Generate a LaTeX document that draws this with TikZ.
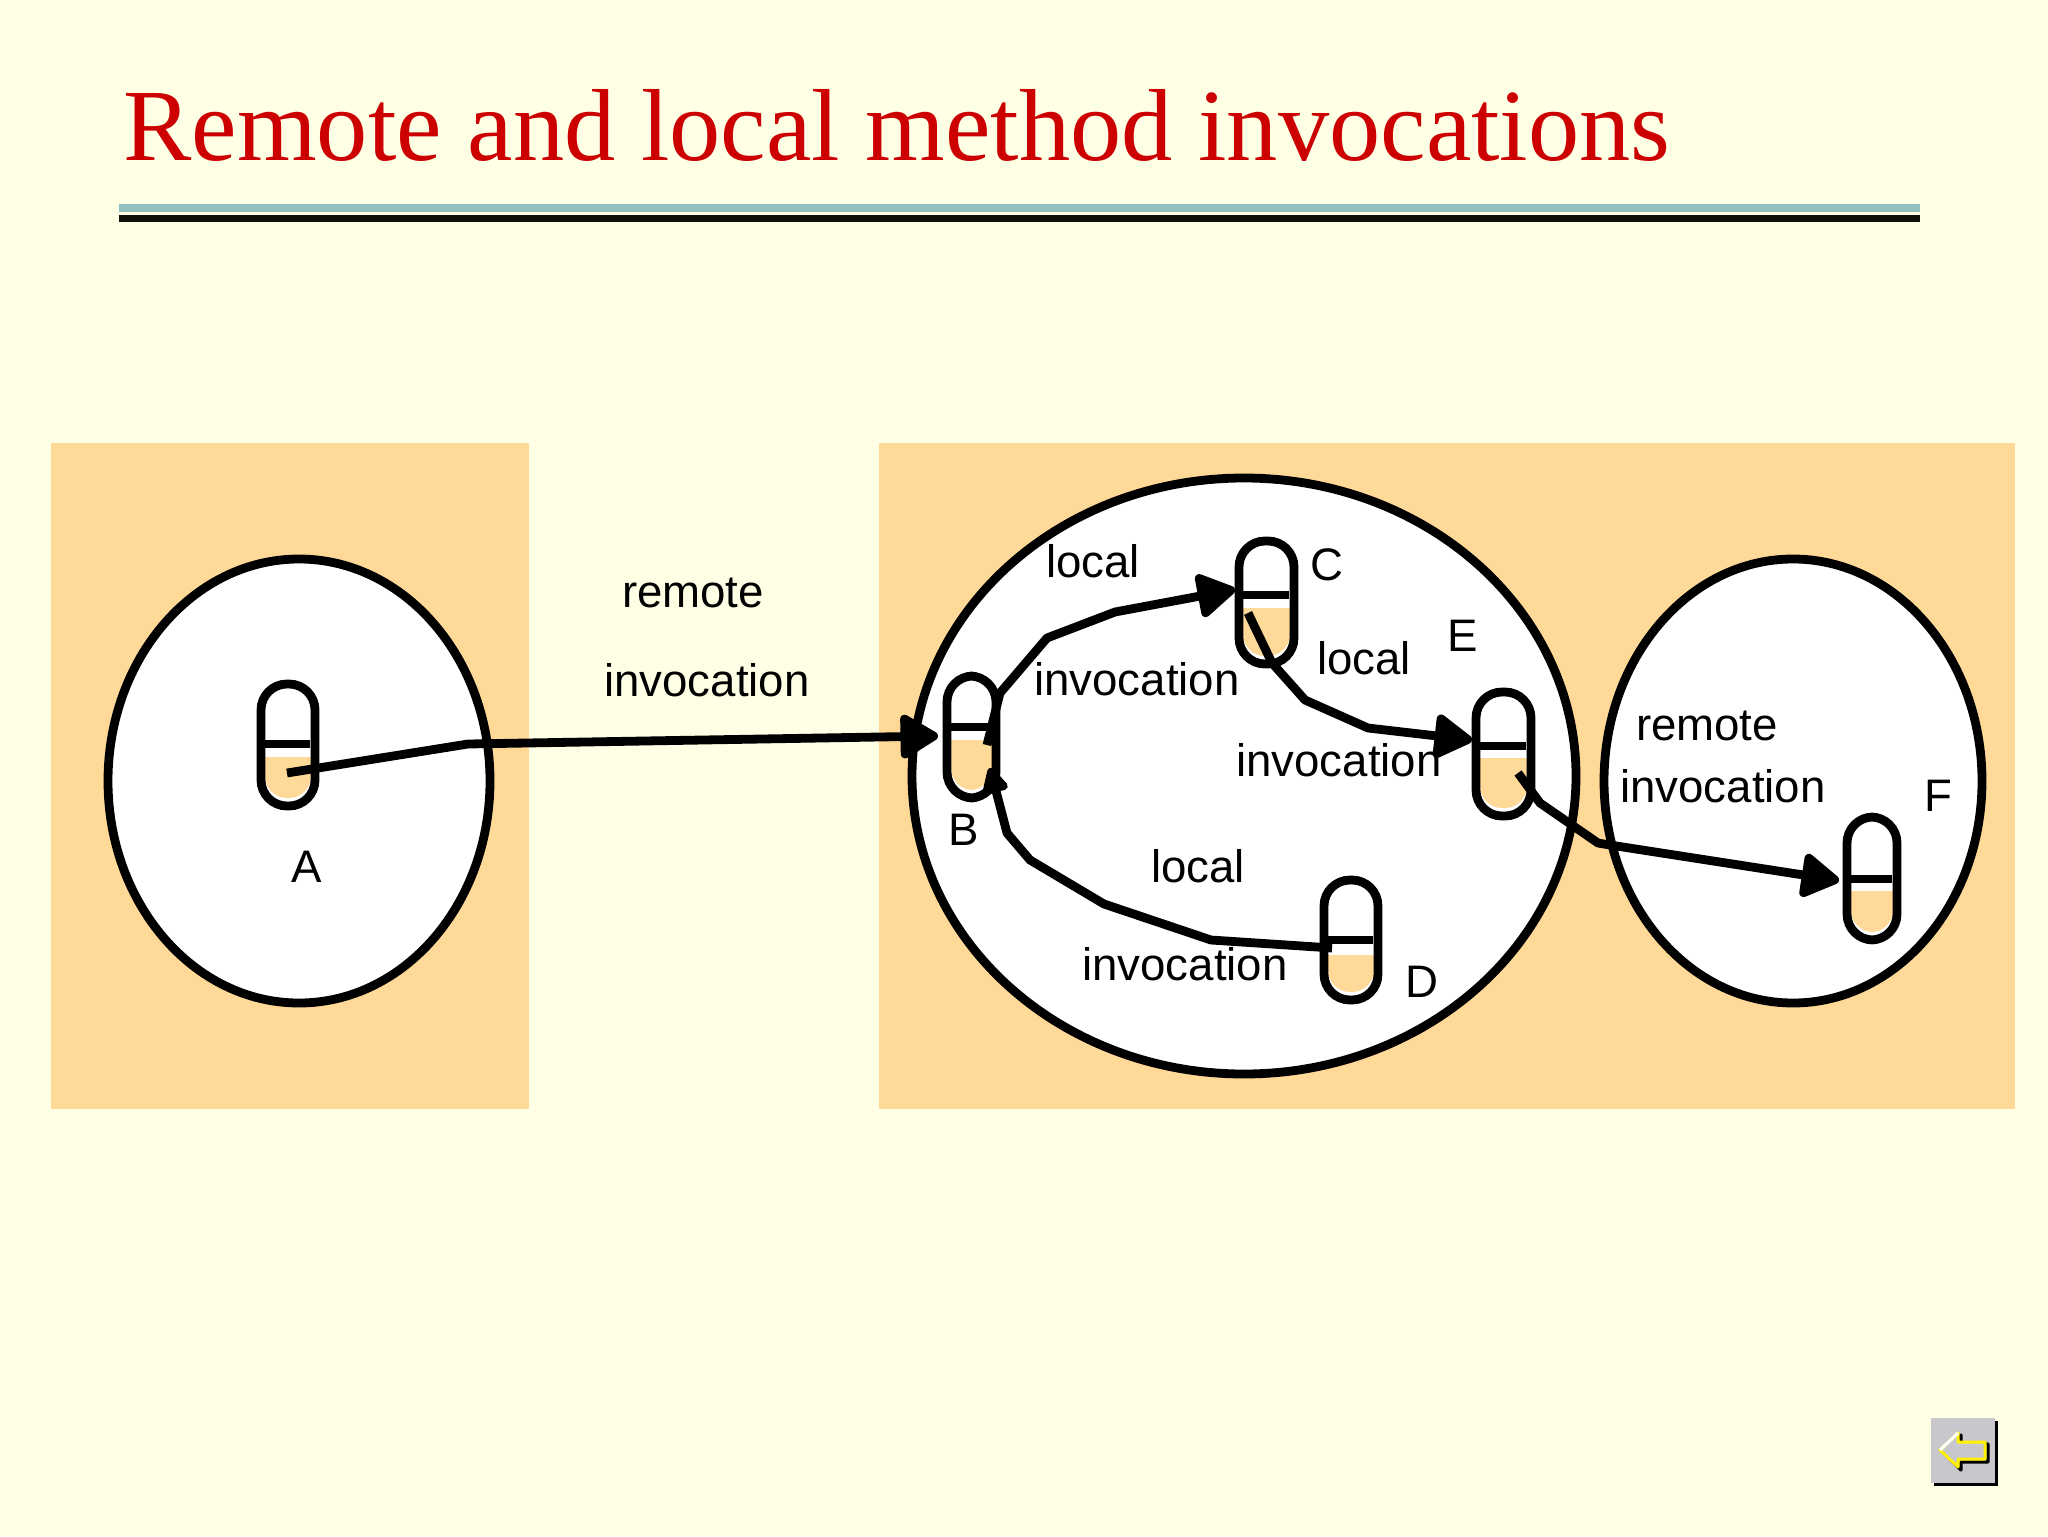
\documentclass[tikz,border=0pt]{standalone}
\usepackage{fontspec}
\setmainfont{Liberation Sans}
\newfontfamily\titlefont{Liberation Serif}
\usetikzlibrary{arrows.meta,shapes.geometric}
\definecolor{pagebg}{RGB}{255,255,230}
\definecolor{peach}{RGB}{255,217,152}
\definecolor{titlered}{RGB}{204,0,0}
\definecolor{tealbar}{RGB}{144,192,192}
\definecolor{barblack}{RGB}{16,16,10}
\definecolor{btngray}{RGB}{200,200,204}
\tikzset{
  host/.style={fill=peach,draw=none},
  proc/.style={ellipse,draw=black,fill=white,line width=4.4pt,inner sep=0pt,outer sep=0pt},
  pill/.style={rectangle,draw=black,line width=4.4pt,inner sep=0pt,outer sep=0pt,rounded corners=13pt},
  divider/.style={draw=black,line width=4.4pt},
  link/.style={draw=black,line width=4.4pt,line join=round,-{Triangle[length=21pt,width=24pt,round]}},
  backlink/.style={draw=black,line width=4.4pt,line join=round,-{Triangle[length=15pt,width=14pt,round]}},
  lab/.style={anchor=base,inner sep=0pt,font=\fontsize{22.8pt}{26pt}\selectfont,text=black},
}
% name, left, top, right, bottom (outer edges), divider y, fill top y
\newcommand\pillbox[7]{%
  \pgfmathsetmacro\pcx{(#2+#4)/2}\pgfmathsetmacro\pcy{(#3+#5)/2}%
  \pgfmathsetmacro\pw{(#4-#2-8)/2}\pgfmathsetmacro\ph{(#5-#3-8)/2}%
  \pgfmathsetmacro\fl{#2+8}\pgfmathsetmacro\fr{#4-8}\pgfmathsetmacro\fb{#5-12}%
  \pgfmathsetmacro\dl{#2+4}\pgfmathsetmacro\dr{#4-9}%
  \fill[peach] (\fl,#7) [rounded corners=11pt] -- (\fl,\fb) -- (\fr,\fb) [sharp corners] -- (\fr,#7) -- cycle;
  \node[pill,minimum width=\pw pt,minimum height=\ph pt] (#1) at (\pcx,\pcy) {};
  \draw[divider] (\dl,#6) -- (\dr,#6);
}
\begin{document}
\begin{tikzpicture}[x=0.5pt,y=-0.5pt]
\useasboundingbox (0,0) rectangle (2048,1536);
\fill[pagebg] (0,0) rectangle (2048,1536);
% title
\node[anchor=base west,inner sep=0pt,text=titlered,font=\fontsize{51.2pt}{56pt}\selectfont\titlefont] (title) at (123,160) {Remote and local method invocations};
\fill[tealbar] (119,204) rectangle (1920,212);
\fill[barblack] (119,215) rectangle (1920,222);
% hosts
\fill[host] (51,443) rectangle (529,1109);
\fill[host] (879,443) rectangle (2015,1109);
% processes
\node[proc,minimum width=191pt,minimum height=222pt] (procA) at (299,781) {};
\node[proc,minimum width=332pt,minimum height=298pt] (procB) at (1244,776) {};
\node[proc,minimum width=189pt,minimum height=222pt] (procF) at (1793,781) {};
% objects
\pillbox{objA}{257}{680}{319}{810}{744}{757}
\pillbox{objB}{943}{672}{1000}{802}{727}{740}
\pillbox{objC}{1235}{537}{1298}{668}{595}{608}
\pillbox{objD}{1320}{876}{1382}{1004}{940}{955}
\pillbox{objE}{1472}{688}{1535}{820}{746}{758}
\pillbox{objF}{1843}{813}{1901}{944}{879}{891}
% connector way-points
\coordinate (a0) at (287,773);
\coordinate (a1) at (468,744);
\coordinate (b0) at (987,745);
\coordinate (b1) at (1000,693);
\coordinate (b2) at (1047,638);
\coordinate (b3) at (1115,612);
\coordinate (c0) at (1248,613);
\coordinate (c1) at (1272,663);
\coordinate (c2) at (1305,700);
\coordinate (c3) at (1368,728);
\coordinate (d0) at (1332,948);
\coordinate (d1) at (1211,940);
\coordinate (d2) at (1104,904);
\coordinate (d3) at (1030,860);
\coordinate (d4) at (1007,833);
\coordinate (d5) at (990,768);
\coordinate (e0) at (1518,773);
\coordinate (e1) at (1540,803);
\coordinate (e2) at (1598,843);
\coordinate (e3) at (1610,845);
% connectors
\draw[link] (a0) -- (a1) -- ([xshift=-4.5pt,yshift=0.5pt]objB.west);
\draw[link] (b0) -- (b1) -- (b2) -- (b3) -- ([xshift=-2pt,yshift=6.5pt]objC.west);
\draw[link] (c0) -- (c1) -- (c2) -- (c3) -- ([xshift=-2pt,yshift=7pt]objE.west);
\draw[backlink] (d0) -- (d1) -- (d2) -- (d3) -- (d4) -- (d5);
\draw[link] (e0) -- (e1) -- (e2) -- (e3) -- ([xshift=-4pt,yshift=-1pt]objF.west);
% labels
\node[lab] (l1) at (693,607) {remote};
\node[lab] (l2) at (707,696) {invocation};
\node[lab] (l3) at (1093,577) {local};
\node[lab] (l4) at (1137,695) {invocation};
\node[lab] (l5) at (1364,674) {local};
\node[lab] (l6) at (1339,776) {invocation};
\node[lab] (l7) at (1707,740) {remote};
\node[lab] (l8) at (1723,802) {invocation};
\node[lab] (l9) at (1198,882) {local};
\node[lab] (l10) at (1185,980) {invocation};
\node[lab] (nA) at (307,882) {A};
\node[lab] (nB) at (964,845) {B};
\node[lab] (nC) at (1327,580) {C};
\node[lab] (nD) at (1422,997) {D};
\node[lab] (nE) at (1463,651) {E};
\node[lab] (nF) at (1938,811) {F};
% back button
\fill[black] (1934,1421) rectangle (1998,1486);
\fill[btngray] (1931,1418) rectangle (1995,1483);
\draw[black,line width=1.6pt,line join=round] (1943,1452) -- (1961,1435) -- (1961,1444) -- (1988,1444) -- (1988,1462) -- (1961,1462) -- (1961,1470) -- cycle;
\draw[yellow,line width=1.5pt,fill=btngray,line join=round] (1940,1450) -- (1958,1433) -- (1958,1442) -- (1985,1442) -- (1985,1459) -- (1958,1459) -- (1958,1467) -- cycle;
\draw[white,line width=1.5pt] (1940,1450) -- (1958,1433);
\end{tikzpicture}
\end{document}
